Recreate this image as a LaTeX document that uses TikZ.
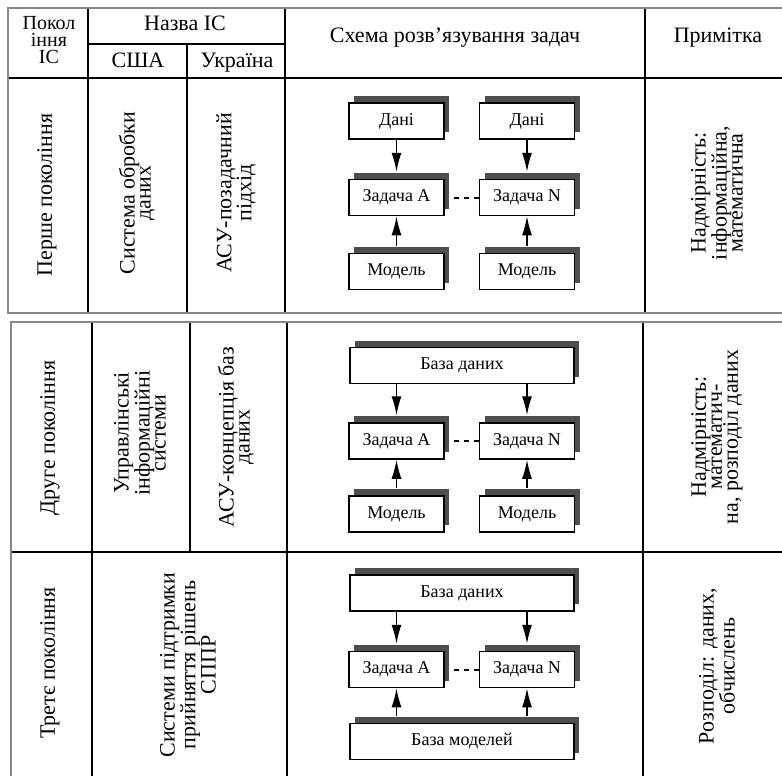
\documentclass[tikz,border=0pt]{standalone}
\usepackage{fontspec}
\setmainfont{Liberation Serif}
\usetikzlibrary{arrows.meta,shadows}
\definecolor{bordergray}{RGB}{135,135,135}
\definecolor{shadowgray}{RGB}{78,78,78}
\begin{document}
\begin{tikzpicture}[x=1pt,y=-1pt,
  tbl/.style={line width=1.3pt, black},
  outer/.style={line width=2.6pt, bordergray},
  hd/.style={font=\fontsize{22}{22}\selectfont, inner sep=0pt},
  rot/.style={rotate=90, align=center, inner sep=0pt, font=\fontsize{22}{16}\selectfont},
  box/.style={draw, line width=1.5pt, fill=white, minimum width=95pt, minimum height=36pt,
    inner sep=0pt, font=\fontsize{18}{18}\selectfont,
    general shadow={fill=shadowgray, shadow xshift=5pt, shadow yshift=7pt}},
  wbox/.style={box, minimum width=224pt},
  arr/.style={line width=1.5pt, -{Latex[length=19pt,width=10pt]}},
  dsh/.style={line width=2pt, dash pattern=on 5pt off 5pt, shorten <=9pt}
]
\useasboundingbox (0,0) rectangle (782,776);

% ---------- first table ----------
\draw[tbl] (88,8) -- (88,313);
\draw[tbl] (187,44) -- (187,313);
\draw[tbl] (285,8) -- (285,313);
\draw[tbl] (645,8) -- (645,313);
\draw[tbl] (88,44) -- (285,44);
\draw[tbl] (8,78) -- (790,78);
\draw[outer] (790,8) -- (8,8) -- (8,313) -- (790,313);

% header texts
\node[inner sep=0pt, align=center, font=\fontsize{20}{17}\selectfont] (h1) at (49,40) {Покол\\іння\\ІС};
\node[hd, anchor=base] (h4) at (185,31) {Назва ІС};
\node[hd, anchor=base] (h5) at (138,67) {США};
\node[hd, anchor=base] (h6) at (237,67) {Україна};
\node[hd, anchor=base] (h7) at (455,43) {Схема розв’язування задач};
\node[hd, anchor=base] (h8) at (718,43) {Примітка};

% row 1 texts
\node[rot] (t11) at (47,195) {Перше покоління};
\node[rot] (t12) at (137,193) {Система обробки\\даних};
\node[rot] (t13) at (236,193) {АСУ-позадачний\\підхід};
\node[rot] (t14) at (717,193) {Надмірність:\\інформаційна,\\математична};

% row 1 scheme
\node[box] (r1d1) at (396.5,121) {Дані};
\node[box] (r1d2) at (527,121) {Дані};
\node[box] (r1a) at (396.5,197.5) {Задача A};
\node[box] (r1n) at (527,197.5) {Задача N};
\node[box] (r1m1) at (396.5,271.5) {Модель};
\node[box] (r1m2) at (527,271.5) {Модель};
\draw[arr] (r1d1) -- ([yshift=7pt]r1a.north);
\draw[arr] (r1d2) -- ([yshift=7pt]r1n.north);
\draw[arr] ([yshift=7pt]r1m1.north) -- (r1a);
\draw[arr] ([yshift=7pt]r1m2.north) -- (r1n);
\draw[dsh] (r1a.east) -- (r1n.west);

% ---------- second table ----------
\draw[tbl] (92,322) -- (92,790);
\draw[tbl] (190,322) -- (190,552);
\draw[tbl] (287,322) -- (287,790);
\draw[tbl] (643,322) -- (643,790);
\draw[tbl] (11,552) -- (790,552);
\draw[outer] (790,322) -- (11,322) -- (11,790);

% row 2 texts
\node[rot] (t21) at (50,438) {Друге покоління};
\node[rot] (t22) at (140,433) {Управлінські\\інформаційні\\системи};
\node[rot] (t23) at (236,437) {АСУ-концепція баз\\даних};
\node[rot] (t24) at (717,437) {Надмірність:\\математич-\\на, розподіл даних};

% row 2 scheme
\node[wbox] (r2db) at (462,365.5) {База даних};
\node[box] (r2a) at (396.5,441) {Задача A};
\node[box] (r2n) at (527,441) {Задача N};
\node[box] (r2m1) at (396.5,514) {Модель};
\node[box] (r2m2) at (527,514) {Модель};
\draw[arr] (r2db.south -| r2a) -- ([yshift=7pt]r2a.north);
\draw[arr] (r2db.south -| r2n) -- ([yshift=7pt]r2n.north);
\draw[arr] ([yshift=7pt]r2m1.north) -- (r2a);
\draw[arr] ([yshift=7pt]r2m2.north) -- (r2n);
\draw[dsh] (r2a.east) -- (r2n.west);

% row 3 texts
\node[rot] (t31) at (50,663) {Третє покоління};
\node[rot] (t32) at (188,665) {Системи підтримки\\прийняття рішень\\СППР};
\node[rot] (t34) at (717,666) {Розподіл: даних,\\обчислень};

% row 3 scheme
\node[wbox] (r3db) at (462,593) {База даних};
\node[box] (r3a) at (396.5,669.5) {Задача A};
\node[box] (r3n) at (527,669.5) {Задача N};
\node[wbox] (r3bm) at (462,741.5) {База моделей};
\coordinate (b3a) at ([yshift=7pt]r3bm.north -| r3a);
\coordinate (b3n) at ([yshift=7pt]r3bm.north -| r3n);
\draw[arr] (r3db.south -| r3a) -- ([yshift=7pt]r3a.north);
\draw[arr] (r3db.south -| r3n) -- ([yshift=7pt]r3n.north);
\draw[arr] (b3a) -- (r3a);
\draw[arr] (b3n) -- (r3n);
\draw[dsh] (r3a.east) -- (r3n.west);
\end{tikzpicture}
\end{document}
